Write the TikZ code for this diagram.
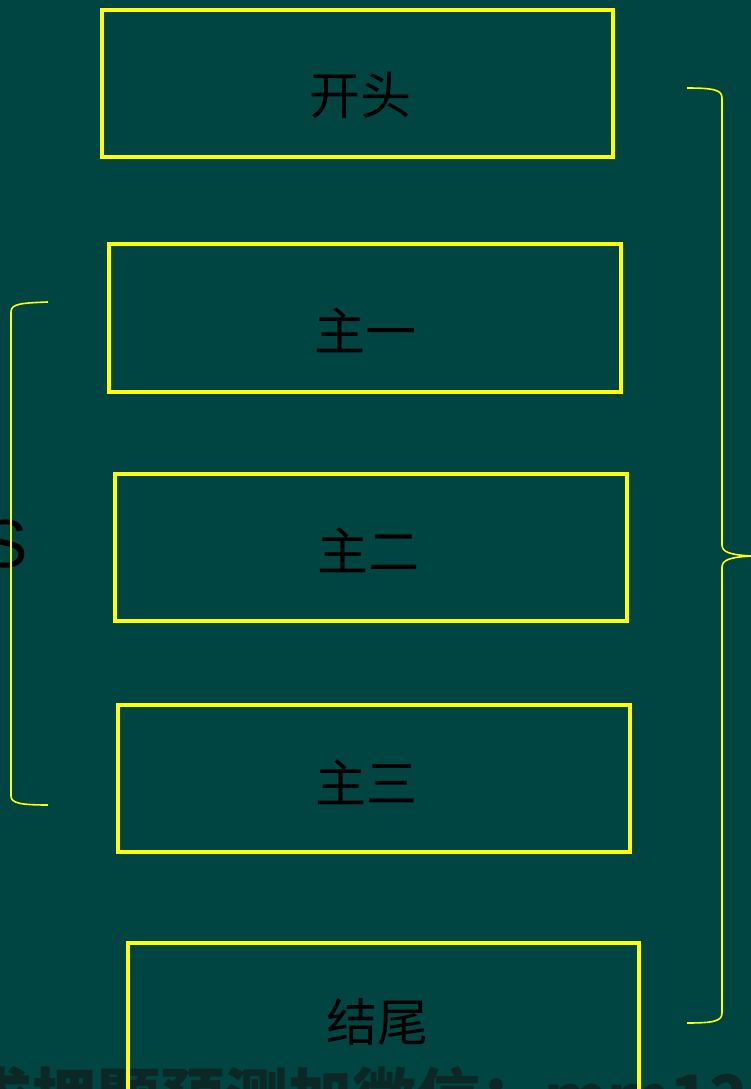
\documentclass[tikz,border=0pt]{standalone}
\usepackage{fontspec}
\newfontfamily\cjk{Noto Sans CJK SC}
\newfontfamily\arialf{Liberation Sans}
\definecolor{bg}{RGB}{0,69,66}
\definecolor{wm}{RGB}{12,40,38}
\definecolor{yl}{RGB}{255,255,0}
\begin{document}
\begin{tikzpicture}[x=1pt,y=-1pt,
  box/.style={draw=yl, line width=3.4pt, rectangle, inner sep=0pt},
  lbl/.style={font=\cjk\fontsize{51}{55}\selectfont, text=black, inner sep=0pt},
  brace/.style={draw=yl, line width=1.6pt}]
\useasboundingbox (0,0) rectangle (751,1089);
\clip (0,0) rectangle (751,1089);
\fill[bg] (0,0) rectangle (751,1089);
% watermark
\node[anchor=base west, inner sep=0pt, text=wm, font=\cjk\bfseries\fontsize{64}{70}\selectfont] (wm) at (-32,1121) {求押题预测加微信：mm123};
% boxes
\node[box, minimum width=511pt, minimum height=147pt] (b1) at (357.5,83.5) {};
\node[box, minimum width=512pt, minimum height=148pt] (b2) at (365,318) {};
\node[box, minimum width=512pt, minimum height=147pt] (b3) at (371,547.5) {};
\node[box, minimum width=512pt, minimum height=147pt] (b4) at (374,778.5) {};
\node[box, minimum width=511pt, minimum height=170pt] (b5) at (383.5,1028) {};
\node[lbl] (t1) at (360,95) {开头};
\node[lbl] (t2) at (365,330) {主一};
\node[lbl] (t3) at (368,550) {主二};
\node[lbl] (t4) at (366,782) {主三};
\node[lbl] (t5) at (377,1022) {结尾};
% left S
\node[anchor=base west, inner sep=0pt, text=black, font=\arialf\fontsize{68}{70}\selectfont] (s) at (-18,567) {S};
% left bracket
\coordinate (lt) at (48,302);
\coordinate (lb) at (48,805);
\draw[brace] (lt) .. controls (20,303) and (11,304) .. (11,312) -- (11,796) .. controls (11,803) and (20,805) .. (lb);
% right brace
\coordinate (rt) at (687,88);
\coordinate (rm) at (752,556);
\coordinate (rb) at (687,1023);
\draw[brace] (rt) .. controls (714,88) and (722,90) .. (722,98) -- (722,545) .. controls (722,552) and (730,555) .. (rm)
  .. controls (730,557) and (722,560) .. (722,567) -- (722,1013) .. controls (722,1021) and (714,1023) .. (rb);
\end{tikzpicture}
\end{document}
